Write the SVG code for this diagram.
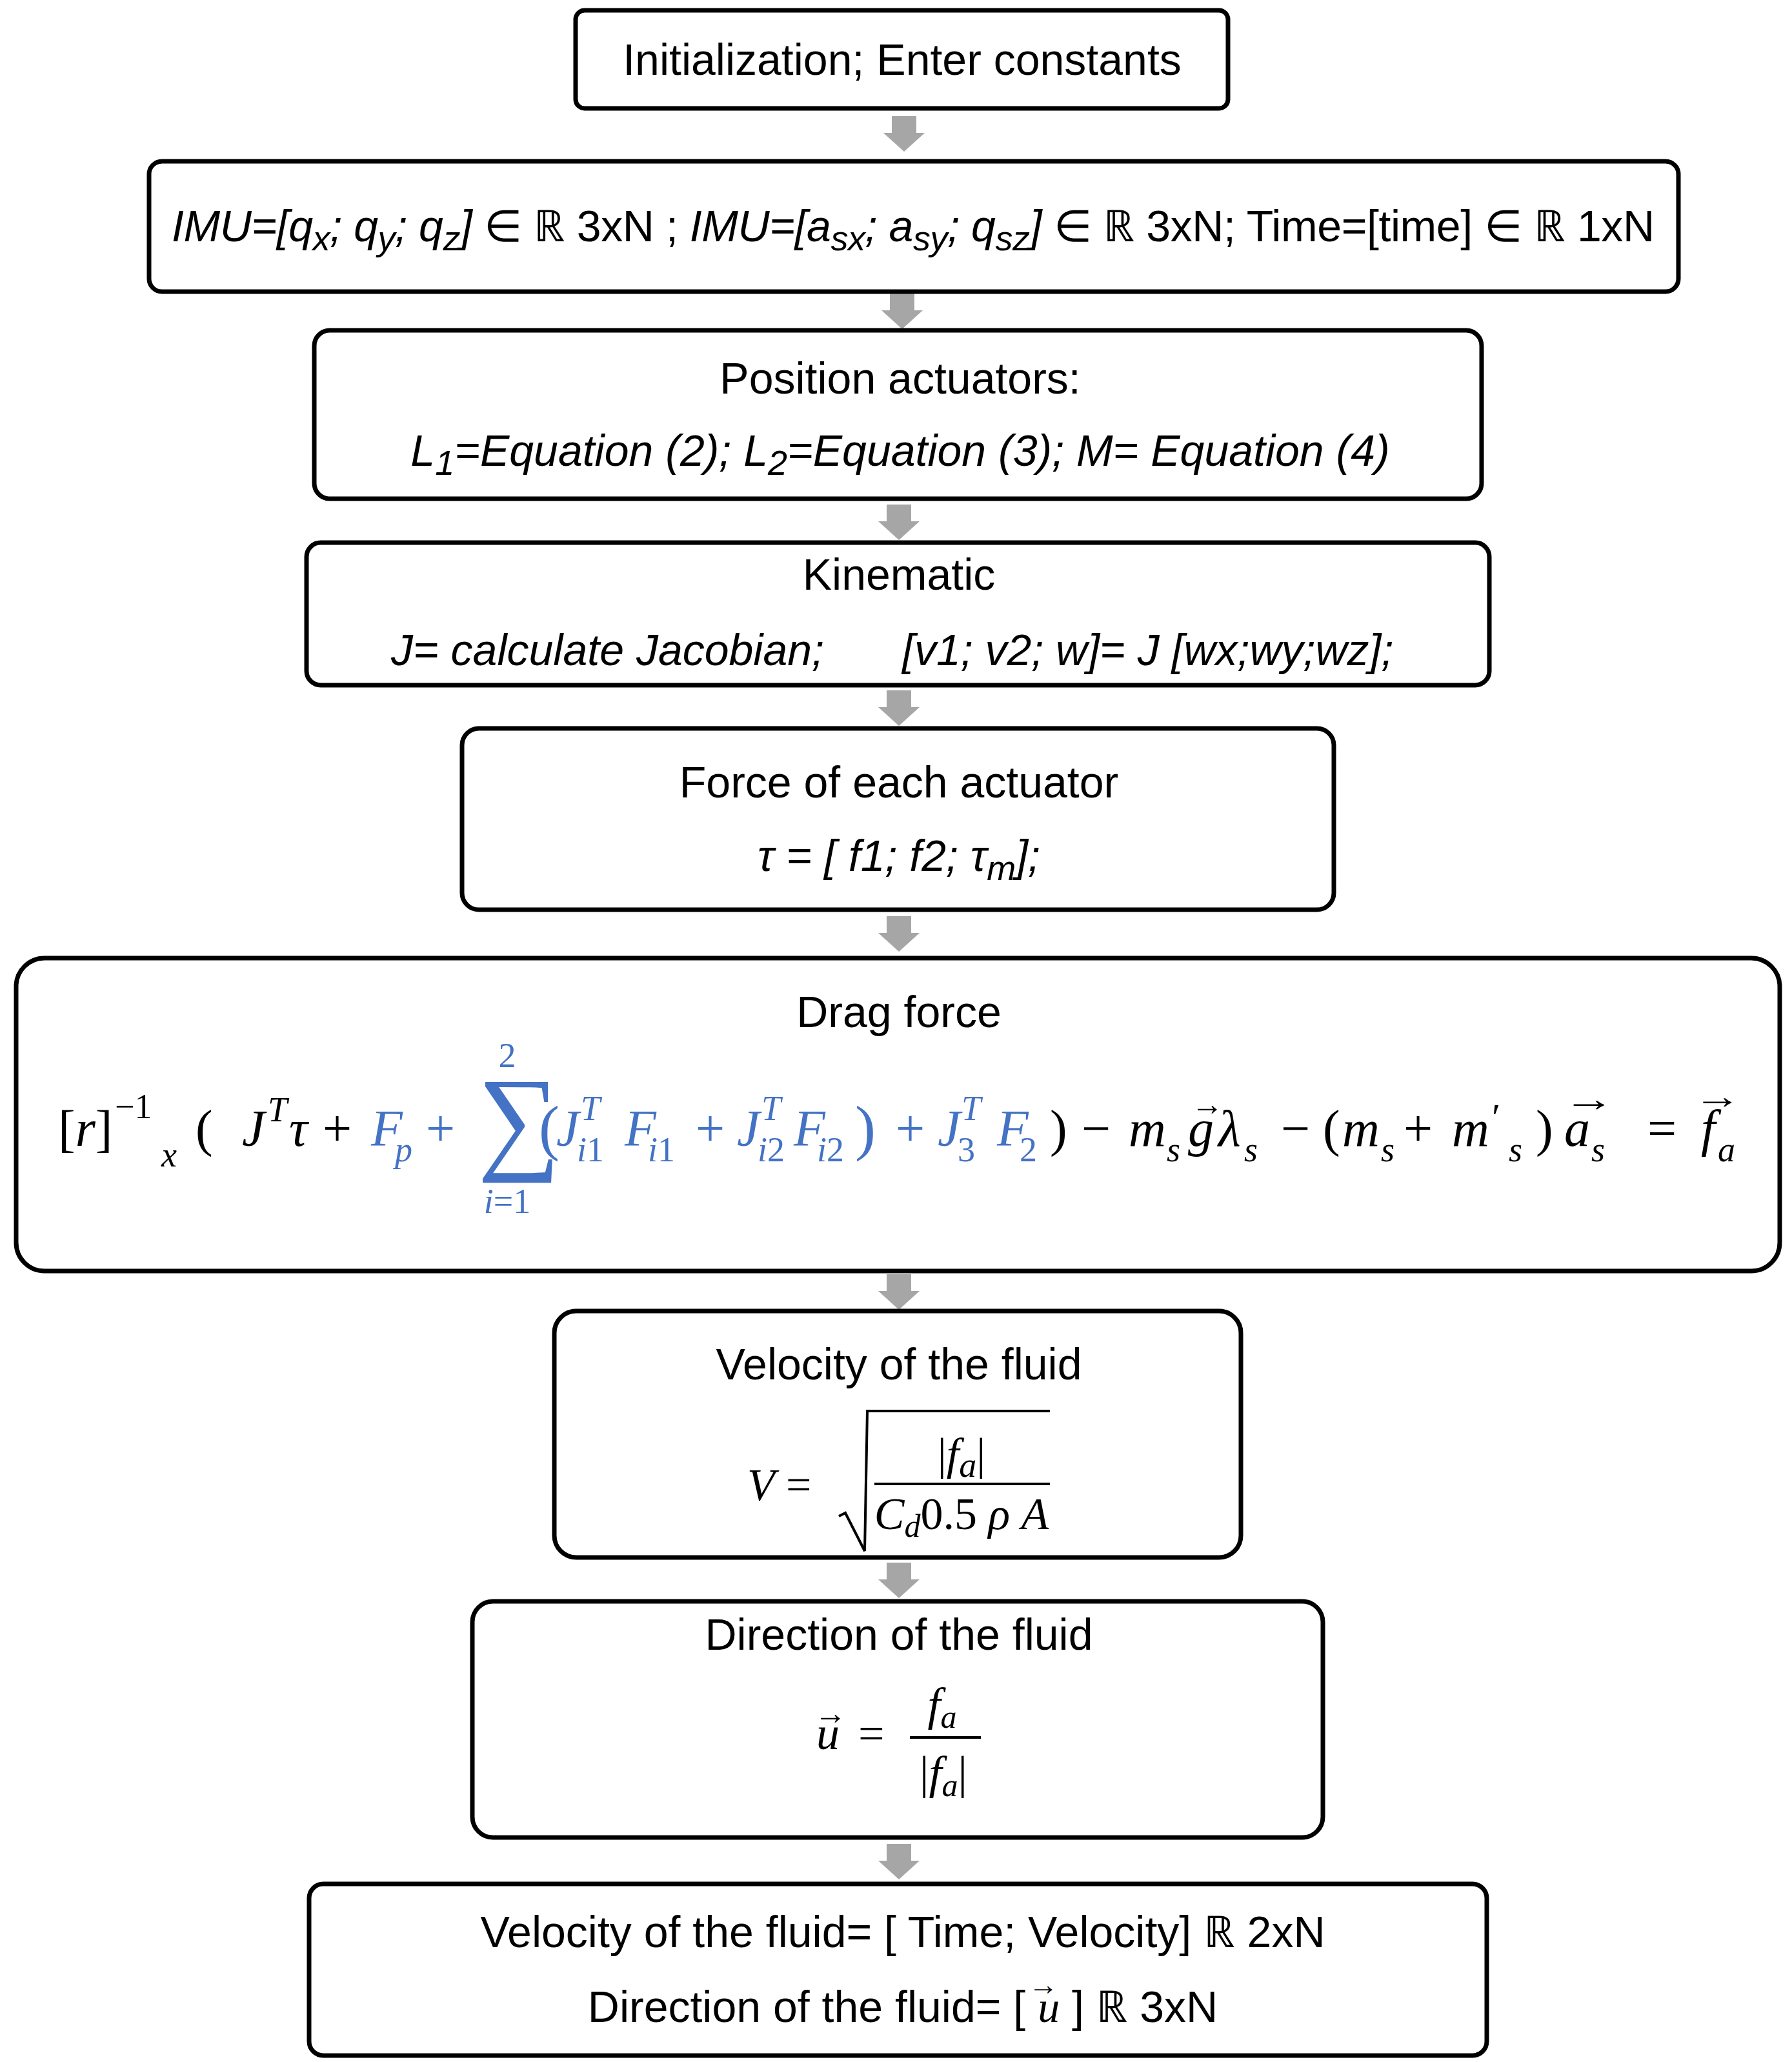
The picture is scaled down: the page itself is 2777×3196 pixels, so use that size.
<svg xmlns="http://www.w3.org/2000/svg" width="2777" height="3196" viewBox="0 0 2777 3196">
<style>
.b{fill:#fff;stroke:#000;stroke-width:7}
.t{font-family:"Liberation Sans","Noto Sans",sans-serif;font-size:68px;fill:#000}
.i{font-style:italic}
.m{font-family:"Liberation Serif","DejaVu Serif",serif;font-size:80px;fill:#000}
.mi{font-family:"Liberation Serif","DejaVu Serif",serif;font-size:80px;font-style:italic;fill:#000}
.s{font-size:54px}
.bl{fill:#4472C4}
.ar{fill:#a6a6a6}
</style>
<defs>
<path id="arr" d="M-19,0 H19 V26 H32 L0,55 L-32,26 H-19 Z"/>
</defs>
<g id="connectors" class="ar">
<use href="#arr" x="1401" y="180"/>
<use href="#arr" x="1398" y="455"/>
<use href="#arr" x="1393" y="782"/>
<use href="#arr" x="1393" y="1070"/>
<use href="#arr" x="1393" y="1420"/>
<use href="#arr" x="1393" y="1975"/>
<use href="#arr" x="1393" y="2422"/>
<use href="#arr" x="1393" y="2858"/>
</g>
<g id="n1"><rect class="b" x="892" y="16" width="1011" height="152" rx="14"/>
<text class="t" x="1398" y="116" text-anchor="middle">Initialization; Enter constants</text></g>
<g id="n2"><rect class="b" x="231" y="250" width="2370" height="202" rx="20"/>
<text class="t" x="266" y="374" textLength="2298" lengthAdjust="spacing"><tspan class="i">IMU=[q</tspan><tspan class="i s" dy="14">x</tspan><tspan class="i" dy="-14">; q</tspan><tspan class="i s" dy="14">y</tspan><tspan class="i" dy="-14">; q</tspan><tspan class="i s" dy="14">z</tspan><tspan class="i" dy="-14">]</tspan> ∈ ℝ 3xN ;  <tspan class="i">IMU=[a</tspan><tspan class="i s" dy="14">sx</tspan><tspan class="i" dy="-14">; a</tspan><tspan class="i s" dy="14">sy</tspan><tspan class="i" dy="-14">; q</tspan><tspan class="i s" dy="14">sz</tspan><tspan class="i" dy="-14">]</tspan> ∈ ℝ 3xN;  Time=[time] ∈ ℝ 1xN</text></g>
<g id="n3"><rect class="b" x="487" y="512" width="1809" height="261" rx="24"/>
<text class="t" x="1395" y="610" text-anchor="middle">Position actuators:</text>
<text class="t i" x="1395" y="722" text-anchor="middle">L<tspan class="s" dy="14">1</tspan><tspan dy="-14">=Equation (2);  L</tspan><tspan class="s" dy="14">2</tspan><tspan dy="-14">=Equation (3);  M= Equation (4)</tspan></text></g>
<g id="n4"><rect class="b" x="475" y="841" width="1833" height="221" rx="22"/>
<text class="t" x="1393" y="914" text-anchor="middle">Kinematic</text>
<text class="t i" x="606" y="1031">J= calculate Jacobian;</text>
<text class="t i" x="1398" y="1031">[v1; v2; w]= J [wx;wy;wz];</text></g>
<g id="n5"><rect class="b" x="716" y="1129" width="1351" height="281" rx="26"/>
<text class="t" x="1393" y="1236" text-anchor="middle">Force of each actuator</text>
<text class="t i" x="1393" y="1350" text-anchor="middle">τ = [ f1;  f2; τ<tspan class="s" dy="14">m</tspan><tspan dy="-14">];</tspan></text></g>
<g id="n6"><rect class="b" x="25" y="1485" width="2733" height="485" rx="44"/>
<text class="t" x="1393" y="1592" text-anchor="middle">Drag force</text>
<g>
<text class="m" x="90" y="1776">[<tspan class="mi">r</tspan>]</text>
<text class="m s" x="178" y="1733">−1</text>
<text class="mi s" x="250" y="1808">x</text>
<text class="m" x="303" y="1776">(</text>
<text class="mi" x="375" y="1776">J</text><text class="mi s" x="415" y="1738">T</text>
<text class="mi" x="448" y="1776">τ</text>
<text class="m" x="500" y="1776">+</text>
<text class="mi bl" x="575" y="1776">F</text><text class="mi s bl" x="612" y="1800">p</text>
<text class="m bl" x="660" y="1776">+</text>
<text class="m bl" x="740" y="1795" style="font-size:180px">∑</text>
<text class="m s bl" x="786" y="1654" text-anchor="middle">2</text>
<text class="mi s bl" x="786" y="1880" text-anchor="middle">i<tspan font-style="normal">=1</tspan></text>
<text class="m bl" x="835" y="1780" style="font-size:96px">(</text>
<text class="mi bl" x="862" y="1776">J</text><text class="mi s bl" x="900" y="1736">T</text><text class="mi s bl" x="894" y="1800">i<tspan font-style="normal">1</tspan></text>
<text class="mi bl" x="968" y="1776">F</text><text class="mi s bl" x="1004" y="1800">i<tspan font-style="normal">1</tspan></text>
<text class="m bl" x="1078" y="1776">+</text>
<text class="mi bl" x="1142" y="1776">J</text><text class="mi s bl" x="1180" y="1736">T</text><text class="mi s bl" x="1174" y="1800">i<tspan font-style="normal">2</tspan></text>
<text class="mi bl" x="1230" y="1776">F</text><text class="mi s bl" x="1266" y="1800">i<tspan font-style="normal">2</tspan></text>
<text class="m bl" x="1325" y="1780" style="font-size:96px">)</text>
<text class="m bl" x="1388" y="1776">+</text>
<text class="mi bl" x="1453" y="1776">J</text><text class="mi s bl" x="1490" y="1736">T</text><text class="m s bl" x="1484" y="1800">3</text>
<text class="mi bl" x="1545" y="1776">F</text><text class="m s bl" x="1580" y="1800">2</text>
<text class="m" x="1627" y="1776">)</text>
<text class="m" x="1676" y="1776">−</text>
<text class="mi" x="1749" y="1776">m</text><text class="mi s" x="1808" y="1800">s</text>
<text class="mi" x="1841" y="1776">g</text><text class="m" x="1846" y="1728" style="font-size:50px">→</text>
<text class="mi" x="1888" y="1776">λ</text><text class="mi s" x="1928" y="1800">s</text>
<text class="m" x="1985" y="1776">−</text>
<text class="m" x="2050" y="1776">(</text>
<text class="mi" x="2080" y="1776">m</text><text class="mi s" x="2140" y="1800">s</text>
<text class="m" x="2175" y="1776">+</text>
<text class="mi" x="2250" y="1776">m</text><text class="m" x="2312" y="1752" style="font-size:60px">′</text><text class="mi s" x="2338" y="1800">s</text>
<text class="m" x="2380" y="1776">)</text>
<text class="mi" x="2424" y="1776">a</text><text class="mi s" x="2466" y="1800">s</text>
<text class="m" x="2422" y="1722" style="font-size:56px" textLength="80" lengthAdjust="spacingAndGlyphs">→</text>
<text class="m" x="2553" y="1776">=</text>
<text class="mi" x="2636" y="1776">f</text><text class="mi s" x="2662" y="1800">a</text>
<text class="m" x="2624" y="1718" style="font-size:56px" textLength="74" lengthAdjust="spacingAndGlyphs">→</text>
</g></g>
<g id="n7"><rect class="b" x="859" y="2032" width="1064" height="382" rx="34"/>
<text class="t" x="1393" y="2138" text-anchor="middle">Velocity of the fluid</text>
<text class="mi" x="1158" y="2325" style="font-size:70px">V</text>
<text class="m" x="1218" y="2325" style="font-size:70px">=</text>
<path d="M1300,2350 L1310,2345 L1340,2404 L1344,2187 L1627,2187" fill="none" stroke="#000" stroke-width="4"/>
<line x1="1355" y1="2300" x2="1627" y2="2300" stroke="#000" stroke-width="4"/>
<text class="m" x="1490" y="2277" text-anchor="middle" style="font-size:70px">|<tspan font-style="italic">f</tspan><tspan class="s" font-style="italic" dy="12">a</tspan><tspan dy="-12">|</tspan></text>
<text class="m" x="1490" y="2370" text-anchor="middle" style="font-size:70px"><tspan font-style="italic">C</tspan><tspan font-style="italic" font-size="50" dy="12">d</tspan><tspan dy="-12">0.5 </tspan><tspan font-style="italic">ρ A</tspan></text></g>
<g id="n8"><rect class="b" x="732" y="2482" width="1318" height="366" rx="32"/>
<text class="t" x="1393" y="2557" text-anchor="middle">Direction of the fluid</text>
<text class="mi" x="1265" y="2711" style="font-size:72px">u</text>
<text class="m" x="1262" y="2672" style="font-size:50px">→</text>
<text class="m" x="1330" y="2711" style="font-size:72px">=</text>
<line x1="1410" y1="2693" x2="1520" y2="2693" stroke="#000" stroke-width="4"/>
<text class="mi" x="1460" y="2666" text-anchor="middle" style="font-size:72px">f<tspan font-size="50" dy="12">a</tspan></text>
<text class="m" x="1462" y="2772" text-anchor="middle" style="font-size:72px">|<tspan font-style="italic">f</tspan><tspan font-style="italic" font-size="50" dy="12">a</tspan><tspan dy="-12">|</tspan></text></g>
<g id="n9"><rect class="b" x="479" y="2920" width="1825" height="266" rx="22"/>
<text class="t" x="1399" y="3018" text-anchor="middle">Velocity of the fluid= [ Time; Velocity] ℝ 2xN</text>
<text class="t" x="1399" y="3134" text-anchor="middle">Direction of the fluid= [ <tspan font-family="Liberation Serif" font-style="italic">u</tspan>   ] ℝ 3xN</text>
<text class="m" x="1594" y="3092" style="font-size:46px">→</text></g>
</svg>
